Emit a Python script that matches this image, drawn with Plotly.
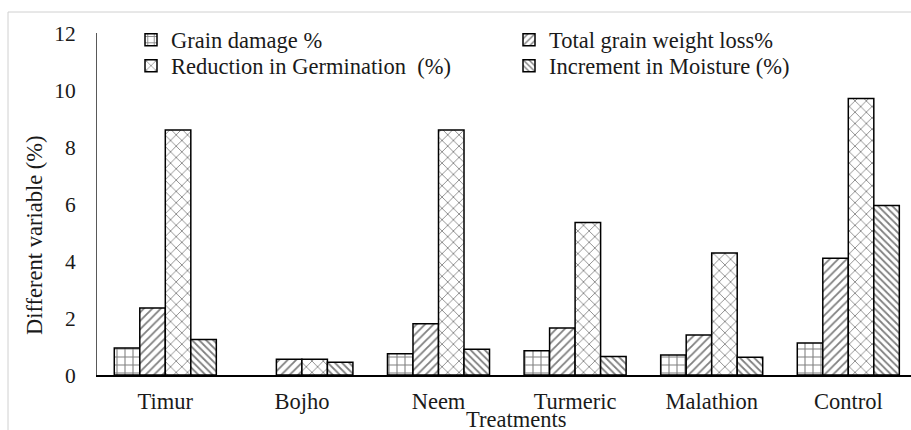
import plotly.graph_objects as go

categories = ["Timur", "Bojho", "Neem", "Turmeric", "Malathion", "Control"]
grain_damage = [0.95, 0.0, 0.75, 0.85, 0.70, 1.12]
weight_loss = [2.35, 0.55, 1.80, 1.65, 1.40, 4.10]
germination = [8.60, 0.55, 8.60, 5.35, 4.28, 9.70]
moisture = [1.25, 0.45, 0.90, 0.65, 0.62, 5.95]
series_names = ["Grain damage %", "Total grain weight loss%",
                "Reduction in Germination  (%)", "Increment in Moisture (%)"]
y_ticks = [0, 2, 4, 6, 8, 10, 12]

FONT = "Liberation Serif, Times New Roman, Times, serif"
TXT = "#1a1a1a"
FS = 22.5
W, H = 911, 430
L, R, T, B = 97, 0, 33, 55
PW = W - L - R
PH = H - T - B

def px_x(x):
    return (x - L) / PW

def px_y(y):
    return (H - B - y) / PH

patterns = [
    dict(shape="+", size=8, solidity=0.25),
    dict(shape="/", size=6, solidity=0.3),
    dict(shape="x", size=8, solidity=0.2),
    dict(shape="\\", size=5, solidity=0.35),
]
legend_refs = ["legend", "legend", "legend2", "legend2"]

fig = go.Figure()
for name, vals, pat, lg in zip(series_names, [grain_damage, weight_loss, germination, moisture],
                               patterns, legend_refs):
    fig.add_trace(go.Bar(
        x=categories, y=vals, name=name, legend=lg,
        marker=dict(color="white",
                    line=dict(color="black", width=[1.5 if v > 0 else 0 for v in vals]),
                    pattern=dict(fgcolor="black", bgcolor="white", fillmode="overlay", **pat)),
    ))

legend_common = dict(orientation="h", xanchor="left", yanchor="middle",
                     entrywidth=333, entrywidthmode="pixels",
                     font=dict(family=FONT, size=FS, color=TXT),
                     bgcolor="rgba(0,0,0,0)", traceorder="normal")

fig.update_layout(
    width=W, height=H,
    margin=dict(l=L, r=R, t=T, b=B, autoexpand=False),
    paper_bgcolor="white", plot_bgcolor="white",
    barmode="group", bargap=0.253, bargroupgap=0,
    font=dict(family=FONT, size=FS, color=TXT),
    showlegend=True,
    legend=dict(x=px_x(131), y=px_y(40), **legend_common),
    legend2=dict(x=px_x(131), y=px_y(66), **legend_common),
    xaxis=dict(range=[-0.5, -0.5 + PW / 136.6], showline=True, linecolor="black", linewidth=2,
               ticks="", showgrid=False, zeroline=False, ticklabelstandoff=5, automargin=False,
               tickfont=dict(family=FONT, size=FS, color=TXT), fixedrange=True),
    yaxis=dict(range=[0, 12], tickvals=y_ticks, showline=True, linecolor="#595959", linewidth=1,
               ticks="", showgrid=False, zeroline=False, ticklabelstandoff=16, automargin=False,
               tickfont=dict(family=FONT, size=21.5, color=TXT), fixedrange=True),
    shapes=[dict(type="rect", xref="paper", yref="paper",
                 x0=px_x(8), x1=px_x(W + 20), y0=px_y(H + 20), y1=px_y(12),
                 line=dict(color="#d0d0d0", width=1), fillcolor="rgba(0,0,0,0)", layer="below")],
    annotations=[
        dict(text="Treatments", xref="paper", yref="paper", x=px_x(516), y=px_y(419),
             xanchor="center", yanchor="middle", showarrow=False,
             font=dict(family=FONT, size=FS, color=TXT)),
        dict(text="Different variable (%)", xref="paper", yref="paper", x=px_x(34), y=px_y(236),
             xanchor="center", yanchor="middle", showarrow=False, textangle=-90,
             font=dict(family=FONT, size=FS, color=TXT)),
    ],
)

fig.write_html("out.html", config={"displayModeBar": False},
               post_script="document.body.style.margin='0';document.body.style.overflow='hidden';")
